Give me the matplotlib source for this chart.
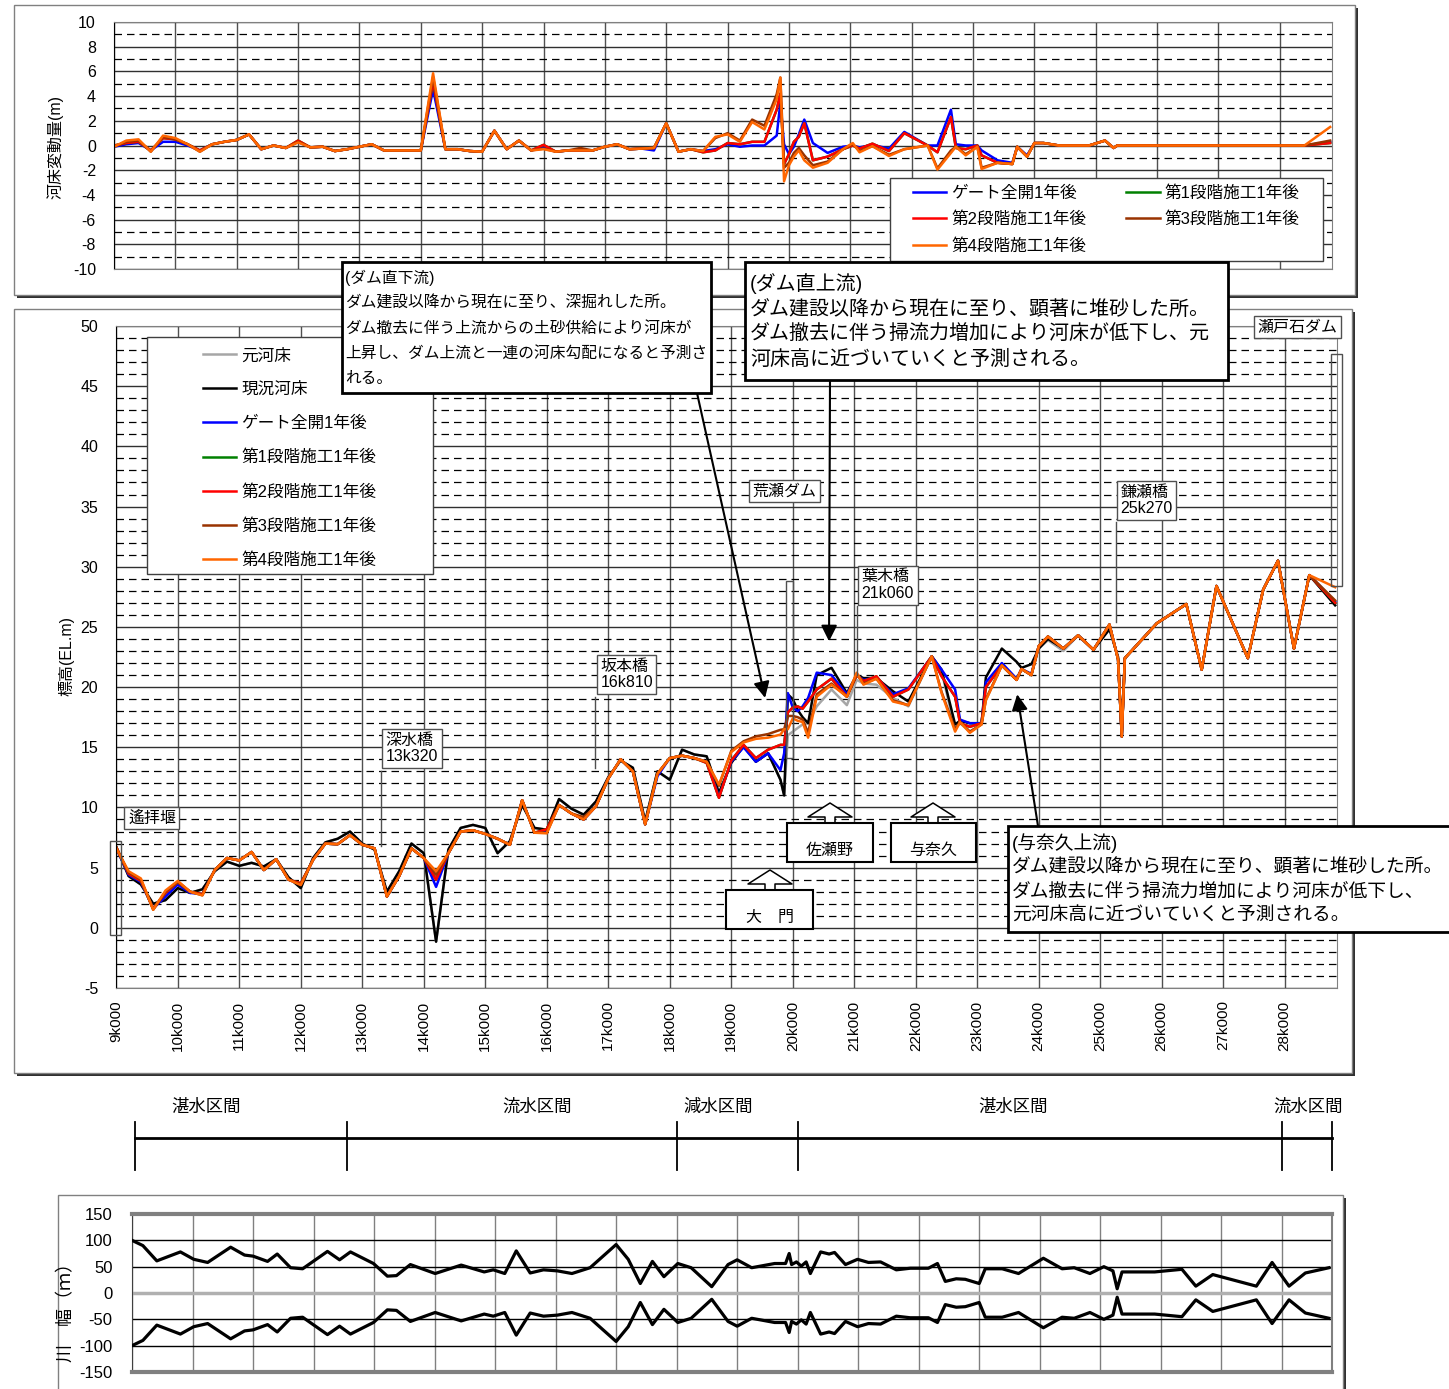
import matplotlib
matplotlib.use("Agg")
import matplotlib.pyplot as plt
import numpy as np
from matplotlib import font_manager
from matplotlib.patches import Rectangle, Polygon, ConnectionPatch
from matplotlib.lines import Line2D
from matplotlib.ticker import MultipleLocator, FixedLocator, NullFormatter

plt.rcParams['font.family'] = ['Liberation Sans', 'Noto Sans CJK JP']
plt.rcParams['axes.unicode_minus'] = False
installed = {f.name for f in font_manager.fontManager.ttflist}
narrow = 'Liberation Sans Narrow' if 'Liberation Sans Narrow' in installed else 'Liberation Sans'

# ---------------- データ ----------------
km = [9.0, 9.2, 9.4, 9.6, 9.8, 10.0, 10.2, 10.4, 10.6, 10.8,
      11.0, 11.2, 11.4, 11.6, 11.8, 12.0, 12.2, 12.4, 12.6, 12.8,
      13.0, 13.2, 13.4, 13.6, 13.8, 14.0, 14.2, 14.4, 14.6, 14.8,
      15.0, 15.2, 15.4, 15.6, 15.8, 16.0, 16.2, 16.4, 16.6, 16.8,
      17.0, 17.2, 17.4, 17.6, 17.8, 18.0, 18.2, 18.4, 18.6, 18.8,
      19.0, 19.2, 19.4, 19.6, 19.8, 19.86, 19.92, 20.0, 20.08, 20.16,
      20.25, 20.39, 20.63, 20.88, 21.04, 21.15, 21.36, 21.63, 21.88, 22.26,
      22.42, 22.64, 22.72, 22.88, 23.07, 23.14, 23.4, 23.64, 23.72, 23.88,
      24.0, 24.15, 24.4, 24.64, 24.89, 25.15, 25.29, 25.35, 25.4, 25.92,
      26.4, 26.65, 26.89, 27.4, 27.65, 27.89, 28.15, 28.4, 28.82]

# 元河床
original_bed = [6.7, 4.3, 3.6, 2.0, 2.3, 3.3, 2.9, 3.2, 4.7, 5.5,
                5.15, 5.4, 5.1, 5.7, 4.2, 3.3, 5.8, 7.1, 7.4, 8.0,
                7.0, 6.5, 3.0, 4.7, 7.0, 6.2, -1.15, 6.5, 8.3, 8.55,
                8.3, 6.2, 7.2, 10.2, 8.3, 8.15, 10.7, 9.9, 9.4, 10.5,
                12.5, 13.9, 13.3, 8.85, 13.0, 12.3, 14.8, 14.4, 14.25, 11.2,
                13.7, 15.1, 13.8, 14.5, 12.3, 11.0, 16.0, 16.3, 16.6, 16.9,
                17.0, 18.4, 19.8, 18.5, 20.6, 20.3, 20.2, 19.1, 18.4, 22.55,
                21.3, 16.5, 17.0, 16.3, 16.9, 18.9, 21.8, 20.6, 21.5, 21.0,
                23.2, 23.9, 23.0, 24.3, 23.1, 25.0, 22.4, 15.9, 22.4, 25.3,
                26.9, 21.45, 28.4, 22.4, 28.1, 30.5, 23.2, 29.3, 26.8]
# 現況河床
current_bed = [6.7, 4.3, 3.6, 2.0, 2.3, 3.3, 2.9, 3.2, 4.7, 5.5,
               5.15, 5.4, 5.1, 5.7, 4.2, 3.3, 5.8, 7.1, 7.4, 8.0,
               7.0, 6.5, 3.0, 4.7, 7.0, 6.2, -1.15, 6.5, 8.3, 8.55,
               8.3, 6.2, 7.2, 10.2, 8.3, 8.15, 10.7, 9.9, 9.4, 10.5,
               12.5, 13.9, 13.3, 8.85, 13.0, 12.3, 14.8, 14.4, 14.25, 11.2,
               13.7, 15.1, 13.8, 14.5, 12.3, 11.0, 19.4, 19.0, 18.1, 17.5,
               17.0, 21.0, 21.6, 19.5, 21.0, 20.75, 20.75, 19.65, 18.8, 22.55,
               21.45, 16.9, 17.2, 17.0, 17.0, 20.8, 23.2, 22.1, 21.6, 21.9,
               23.2, 24.0, 23.2, 24.3, 23.1, 24.8, 22.5, 15.9, 22.4, 25.3,
               26.9, 21.45, 28.4, 22.4, 28.1, 30.5, 23.2, 29.3, 26.8]
# ゲート全開1年後
gate_open = [6.6, 4.4, 3.8, 1.6, 2.6, 3.6, 2.9, 2.8, 4.8, 5.8,
             5.6, 6.3, 4.8, 5.7, 4.0, 3.6, 5.65, 7.0, 6.95, 7.7,
             6.9, 6.6, 2.6, 4.3, 6.6, 5.8, 3.4, 6.2, 8.0, 8.1,
             7.8, 7.4, 6.9, 10.6, 7.9, 8.0, 10.2, 9.5, 9.0, 10.1,
             12.4, 14.0, 13.0, 8.6, 12.6, 14.1, 14.3, 14.1, 13.8, 10.9,
             13.8, 15.0, 13.8, 14.5, 13.1, 14.5, 19.5, 18.3, 18.0, 18.4,
             19.1, 21.2, 21.0, 19.4, 21.0, 20.6, 20.8, 19.4, 19.9, 22.55,
             21.45, 19.8, 17.3, 17.0, 17.0, 20.4, 22.0, 20.7, 21.5, 21.1,
             23.4, 24.2, 23.2, 24.3, 23.1, 25.2, 22.3, 15.9, 22.4, 25.3,
             26.9, 21.45, 28.4, 22.4, 28.1, 30.5, 23.2, 29.3, 27.1]
# 第1段階施工1年後
stage1 = [6.7, 4.5, 3.9, 1.6, 2.9, 3.8, 3.0, 2.8, 4.8, 5.8,
          5.6, 6.3, 4.8, 5.7, 4.0, 3.7, 5.65, 7.0, 6.95, 7.7,
          6.9, 6.6, 2.6, 4.3, 6.6, 5.8, 4.0, 6.2, 8.0, 8.1,
          7.8, 7.4, 6.9, 10.6, 7.9, 8.2, 10.2, 9.5, 9.0, 10.1,
          12.4, 14.0, 13.0, 8.6, 12.8, 14.1, 14.3, 14.1, 13.7, 10.8,
          13.9, 15.2, 14.1, 14.8, 15.2, 15.2, 17.9, 18.3, 18.4, 18.2,
          18.8, 19.8, 20.7, 19.2, 21.0, 20.5, 20.9, 19.2, 19.8, 22.55,
          20.9, 19.2, 17.0, 16.7, 17.0, 20.0, 21.8, 20.6, 21.5, 21.0,
          23.4, 24.2, 23.2, 24.3, 23.1, 25.2, 22.3, 15.9, 22.4, 25.3,
          26.9, 21.45, 28.4, 22.4, 28.1, 30.5, 23.2, 29.3, 27.0]
# 第2段階施工1年後
stage2 = [6.7, 4.5, 3.9, 1.6, 2.9, 3.8, 3.0, 2.8, 4.8, 5.8,
          5.6, 6.3, 4.8, 5.7, 4.0, 3.7, 5.65, 7.0, 6.95, 7.7,
          6.9, 6.6, 2.6, 4.3, 6.6, 5.8, 4.0, 6.2, 8.0, 8.1,
          7.8, 7.4, 6.9, 10.6, 7.9, 8.2, 10.2, 9.5, 9.0, 10.1,
          12.4, 14.0, 13.0, 8.6, 12.8, 14.1, 14.3, 14.1, 13.7, 10.8,
          13.9, 15.2, 14.1, 14.8, 15.2, 15.2, 17.9, 18.3, 18.4, 18.2,
          18.8, 19.8, 20.7, 19.2, 21.0, 20.5, 20.9, 19.2, 19.8, 22.55,
          20.9, 19.2, 17.0, 16.7, 17.0, 20.0, 21.8, 20.6, 21.5, 21.0,
          23.4, 24.2, 23.2, 24.3, 23.1, 25.2, 22.3, 15.9, 22.4, 25.3,
          26.9, 21.45, 28.4, 22.4, 28.1, 30.5, 23.2, 29.3, 27.0]
# 第3段階施工1年後
stage3 = [6.6, 4.6, 4.0, 1.5, 3.0, 3.8, 3.0, 2.7, 4.8, 5.8,
          5.6, 6.3, 4.8, 5.7, 4.0, 3.6, 5.65, 7.0, 6.95, 7.7,
          6.9, 6.6, 2.6, 4.3, 6.6, 5.8, 4.4, 6.2, 8.0, 8.1,
          7.8, 7.4, 6.9, 10.6, 7.9, 7.9, 10.2, 9.5, 9.2, 10.1,
          12.4, 14.0, 13.0, 8.6, 12.8, 14.1, 14.3, 14.1, 13.8, 11.8,
          14.7, 15.5, 15.9, 16.1, 16.45, 16.5, 17.6, 17.6, 17.5, 17.3,
          16.2, 19.4, 20.3, 19.2, 21.1, 20.3, 20.7, 18.9, 18.5, 22.55,
          19.6, 16.5, 17.1, 16.3, 16.9, 19.0, 21.8, 20.6, 21.5, 21.0,
          23.4, 24.2, 23.2, 24.3, 23.1, 25.2, 22.3, 15.9, 22.4, 25.3,
          26.9, 21.45, 28.4, 22.4, 28.1, 30.5, 23.2, 29.3, 27.2]
# 第4段階施工1年後
stage4 = [6.6, 4.7, 4.1, 1.5, 3.1, 3.9, 3.0, 2.7, 4.8, 5.8,
          5.6, 6.3, 4.8, 5.7, 4.0, 3.55, 5.65, 7.0, 6.95, 7.7,
          6.9, 6.6, 2.6, 4.3, 6.6, 5.8, 4.7, 6.2, 8.0, 8.1,
          7.8, 7.4, 6.9, 10.6, 7.9, 7.85, 10.2, 9.5, 9.0, 10.1,
          12.4, 14.0, 13.0, 8.6, 12.8, 14.1, 14.3, 14.1, 13.8, 11.9,
          14.6, 15.4, 15.7, 15.8, 16.05, 16.5, 16.5, 17.4, 17.2, 17.1,
          15.8, 19.2, 20.2, 19.2, 21.2, 20.2, 20.7, 18.8, 18.5, 22.55,
          19.5, 16.3, 17.1, 16.2, 16.9, 18.9, 21.8, 20.6, 21.5, 21.0,
          23.4, 24.2, 23.2, 24.3, 23.1, 25.2, 22.3, 15.9, 22.4, 25.3,
          26.9, 21.45, 28.4, 22.4, 28.1, 30.5, 23.2, 29.3, 28.3]

# 川幅（片側）
width_km = [9.0, 9.18, 9.41, 9.8, 10.02, 10.25, 10.63, 10.86, 11.0, 11.24,
            11.4, 11.62, 11.82, 12.23, 12.43, 12.61, 12.99, 13.22, 13.37, 13.6,
            14.01, 14.44, 14.82, 14.97, 15.16, 15.35, 15.58, 15.8, 16.03, 16.27,
            16.57, 17.0, 17.2, 17.4, 17.6, 17.79, 18.02, 18.24, 18.58, 18.85,
            19.0, 19.24, 19.62, 19.8, 19.86, 19.9, 19.98, 20.06, 20.14, 20.21,
            20.38, 20.52, 20.61, 20.79, 20.99, 21.17, 21.37, 21.63, 21.86, 22.16,
            22.31, 22.44, 22.62, 22.77, 23.0, 23.1, 23.38, 23.65, 24.06, 24.37,
            24.57, 24.83, 25.06, 25.21, 25.28, 25.36, 25.9, 26.35, 26.58, 26.86,
            27.58, 27.84, 28.12, 28.39, 28.78]
half_width = [100, 90, 61, 78, 64, 58, 87, 72, 70, 60,
              74, 48, 46, 79, 63, 78, 56, 32, 33, 54,
              37, 53, 40, 44, 37, 80, 38, 44, 42, 37,
              48, 92, 64, 18, 60, 31, 56, 48, 12, 54,
              63, 48, 56, 56, 75, 54, 59, 51, 59, 37,
              78, 74, 77, 54, 64, 58, 59, 44, 47, 47,
              56, 22, 27, 26, 18, 46, 46, 37, 66, 46,
              48, 37, 50, 42, 8, 40, 40, 45, 13, 35,
              13, 58, 13, 38, 48]

# 区間
section_bounds = [9.05, 12.55, 18.0, 20.0, 28.0, 28.83]
section_names = ['湛水区間', '流水区間', '減水区間', '湛水区間', '流水区間']
section_label_km = [10.22, 15.69, 18.69, 23.56, 28.44]

# 橋梁・ダム
bridge_names = ['深水橋', '坂本橋', '葉木橋', '鎌瀬橋']
bridge_km = [13.32, 16.81, 21.06, 25.27]
bridge_label_y = [14.9, 21.05, 28.45, 35.5]
bridge_leader = [(13.05, 6.8), (19.2, 13.3), (26.7, 21.0), (33.7, 25.4)]
dam_names = ['遙拝堰', '荒瀬ダム', '瀬戸石ダム']
dam_label_pos = [(9.19, 9.1), (19.35, 36.3), (27.56, 49.9)]
dam_rects = [(8.9, -0.6, 9.07, 7.2), (19.89, 14.1, 20.0, 28.8), (28.75, 28.4, 28.93, 47.7)]

series = [('元河床', original_bed, '#a6a6a6'),
          ('現況河床', current_bed, 'black'),
          ('ゲート全開1年後', gate_open, '#0000ff'),
          ('第1段階施工1年後', stage1, '#008000'),
          ('第2段階施工1年後', stage2, '#ff0000'),
          ('第3段階施工1年後', stage3, '#993300'),
          ('第4段階施工1年後', stage4, '#ff6600')]

XMAX = 28.85
W, H = 1449, 1389
fig = plt.figure(figsize=(W / 100, H / 100), dpi=100)


def fx(x):
    return x / W


def fy(y):
    return 1 - y / H


def rect_px(x0, y0, x1, y1):
    return [x0 / W, 1 - y1 / H, (x1 - x0) / W, (y1 - y0) / H]


def frame(x0, y0, x1, y1):
    # 影付きの枠
    fig.add_artist(Rectangle((fx(x0 + 3), fy(y1 + 3)), (x1 - x0) / W, (y1 - y0) / H,
                             transform=fig.transFigure, fc='#303030', ec='none', zorder=-2))
    fig.add_artist(Rectangle((fx(x0), fy(y1)), (x1 - x0) / W, (y1 - y0) / H,
                             transform=fig.transFigure, fc='white', ec='#808080', lw=1, zorder=-1))


frame(14, 5, 1355, 295)
frame(14, 309, 1352, 1073)
frame(58, 1195, 1343, 1400)

dash = (0, (6, 4))

# ---------------- 上段: 河床変動量 ----------------
ax_top = fig.add_axes(rect_px(114, 22, 1332, 269))
ax_top.set_xlim(9, XMAX)
ax_top.set_ylim(-10, 10)
ax_top.xaxis.set_major_locator(FixedLocator(range(9, 29)))
ax_top.xaxis.set_major_formatter(NullFormatter())
ax_top.yaxis.set_major_locator(MultipleLocator(2))
ax_top.yaxis.set_minor_locator(MultipleLocator(1))
ax_top.grid(True, which='major', axis='x', color='#505050', lw=1)
ax_top.grid(True, which='major', axis='y', color='#303030', lw=1)
ax_top.grid(True, which='minor', axis='y', color='black', lw=0.9, linestyle=dash)
ax_top.set_axisbelow(True)
ax_top.tick_params(which='both', length=0)
ax_top.tick_params(axis='y', pad=13, labelsize=11.5)
for s in ax_top.spines.values():
    s.set_color('#808080')
ax_top.spines['left'].set_color('black')

cur = np.array(current_bed)
top_handles = {}
for name, vals, col in series[2:]:
    h, = ax_top.plot(km, np.array(vals) - cur, color=col, lw=1.8)
    top_handles[name] = h
fig.text(fx(55), fy(147), '河床変動量(m)', rotation=90, ha='center', va='center', fontsize=11.5)

fig.add_artist(Rectangle((fx(890), fy(261)), (1323 - 890) / W, (261 - 178) / H,
                         transform=fig.transFigure, fc='white', ec='#404040', lw=1, zorder=1))
order = ['ゲート全開1年後', '第2段階施工1年後', '第4段階施工1年後', '第1段階施工1年後', '第3段階施工1年後']
leg_top = fig.legend([top_handles[n] for n in order], order, loc='upper left',
                     bbox_to_anchor=(fx(913), fy(185)), ncol=2, frameon=False, fontsize=12,
                     borderpad=0, handlelength=2.0, handletextpad=0.3, labelspacing=0.66,
                     columnspacing=2.4, borderaxespad=0)
leg_top.set_zorder(2)

# ---------------- 中段: 縦断図 ----------------
ax = fig.add_axes(rect_px(116.3, 326, 1337, 988))
ax.set_xlim(9, XMAX)
ax.set_ylim(-5, 50)
ax.xaxis.set_major_locator(FixedLocator(range(9, 29)))
ax.set_xticklabels([f'{k}k000' for k in range(9, 29)], rotation=90, fontsize=11)
ax.yaxis.set_major_locator(MultipleLocator(5))
ax.yaxis.set_minor_locator(MultipleLocator(1))
ax.grid(True, which='major', axis='x', color='#505050', lw=1)
ax.grid(True, which='major', axis='y', color='#303030', lw=1)
ax.grid(True, which='minor', axis='y', color='black', lw=0.9, linestyle=dash)
ax.set_axisbelow(True)
ax.tick_params(which='both', length=0)
ax.tick_params(axis='y', pad=13, labelsize=11.5)
ax.tick_params(axis='x', pad=9)
for s in ax.spines.values():
    s.set_color('#808080')
ax.spines['left'].set_color('black')

main_handles = []
for name, vals, col in series:
    h, = ax.plot(km, vals, color=col, lw=1.8)
    main_handles.append(h)
fig.text(fx(66), fy(656), '標高(EL.m)', rotation=90, ha='center', va='center', fontsize=11.5)

fig.add_artist(Rectangle((fx(147), fy(574)), (433 - 147) / W, (574 - 337) / H,
                         transform=fig.transFigure, fc='white', ec='#404040', lw=1, zorder=1))
leg_main = fig.legend(main_handles, [s[0] for s in series], loc='upper left',
                      bbox_to_anchor=(fx(203), fy(348)), frameon=False, fontsize=12,
                      borderpad=0, handlelength=2.0, handletextpad=0.3, labelspacing=1.12,
                      borderaxespad=0)
leg_main.set_zorder(2)

# 橋梁ラベル
for name, k, ly, (l0, l1) in zip(bridge_names, bridge_km, bridge_label_y, bridge_leader):
    ax.plot([k - 0.02, k - 0.02], [l0, l1], color='#505050', lw=1, zorder=3)
    label = f'{name}\n{int(k)}k{round((k % 1) * 1000):03d}'
    ax.text(k + 0.06, ly, label, ha='left', va='center', fontsize=11.5, linespacing=1.15, zorder=4,
            bbox=dict(boxstyle='square,pad=0.22', fc='white', ec='#505050', lw=1))

# ダム
for name, (lx, ly), (x0, y0, x1, y1) in zip(dam_names, dam_label_pos, dam_rects):
    ax.add_patch(Rectangle((x0, y0), x1 - x0, y1 - y0, fc='none', ec='#505050', lw=1,
                           clip_on=False, zorder=4))
    ax.text(lx, ly, name, ha='left', va='center', fontsize=11.5, zorder=4,
            bbox=dict(boxstyle='square,pad=0.22', fc='white', ec='#505050', lw=1))


# 地名（上向き矢印付きボックス）
def place_box(cx, box, apex, base, name):
    x0, y0, x1, y1 = box
    hh, hs = 22, 5
    pts = [(cx - hs, y0), (cx - hs, base), (cx - hh, base), (cx, apex),
           (cx + hh, base), (cx + hs, base), (cx + hs, y0)]
    fig.add_artist(Polygon([(fx(p), fy(q)) for p, q in pts], closed=True, transform=fig.transFigure,
                           fc='white', ec='none', zorder=2))
    fig.add_artist(Line2D([fx(p) for p, q in pts], [fy(q) for p, q in pts], transform=fig.transFigure,
                          color='black', lw=1.1, zorder=2.1))
    fig.add_artist(Rectangle((fx(x0), fy(y1)), (x1 - x0) / W, (y1 - y0) / H, transform=fig.transFigure,
                             fc='white', ec='black', lw=1.5, zorder=2))
    fig.text(fx(cx), fy(y0 + 27), name, ha='center', va='center', fontsize=11.5, zorder=2.2)


place_box(830, (787, 823, 873, 862), 803, 817, '佐瀬野')
place_box(933, (891, 823, 976, 862), 803, 817, '与奈久')
place_box(770, (726, 890, 813, 929), 870, 884, '大　門')

# 説明枠
callouts = [
    ((342, 262, 711, 393), 345, 278, 25, 11.3,
     ['(ダム直下流)', 'ダム建設以降から現在に至り、深掘れした所。',
      'ダム撤去に伴う上流からの土砂供給により河床が',
      '上昇し、ダム上流と一連の河床勾配になると予測さ', 'れる。']),
    ((745, 262, 1228, 380), 750, 284, 25, 14.4,
     ['(ダム直上流)', 'ダム建設以降から現在に至り、顕著に堆砂した所。',
      'ダム撤去に伴う掃流力増加により河床が低下し、元', '河床高に近づいていくと予測される。']),
    ((1008, 826, 1470, 932), 1012, 843, 24.5, 13.5,
     ['(与奈久上流)', 'ダム建設以降から現在に至り、顕著に堆砂した所。',
      'ダム撤去に伴う掃流力増加により河床が低下し、', '元河床高に近づいていくと予測される。']),
]
for (x0, y0, x1, y1), tx, ty, dy, fs, lines in callouts:
    fig.add_artist(Rectangle((fx(x0), fy(y1)), (x1 - x0) / W, (y1 - y0) / H, transform=fig.transFigure,
                             fc='white', ec='black', lw=2, zorder=5))
    for i, line in enumerate(lines):
        fig.text(fx(tx), fy(ty + i * dy), line, ha='left', va='center', fontsize=fs, zorder=6)

# 矢印
arrows = [((697, 393), (19.55, 19.1)), ((830, 380), (20.59, 23.8)), ((1038, 826), (23.65, 19.4))]
for (sx, sy), tip in arrows:
    con = ConnectionPatch(xyA=(fx(sx), fy(sy)), coordsA=fig.transFigure, xyB=tip, coordsB=ax.transData,
                          arrowstyle='-|>', mutation_scale=24, lw=1.5, color='black', zorder=4)
    fig.add_artist(con)

# ---------------- 区間帯 ----------------
ax_band = fig.add_axes(rect_px(132, 1090, 1332, 1180))
ax_band.set_xlim(9, 28.83)
ax_band.set_ylim(0, 1)
ax_band.axis('off')
ax_band.plot([section_bounds[0], section_bounds[-1]], [0.467, 0.467], color='black', lw=2, clip_on=False)
for b in section_bounds:
    ax_band.plot([b, b], [0.111, 0.644], color='black', lw=1.3, clip_on=False)
for name, k in zip(section_names, section_label_km):
    ax_band.text(k, 0.811, name, ha='center', va='center', fontsize=12.5)

# ---------------- 下段: 川幅 ----------------
ax_w = fig.add_axes(rect_px(132, 1214, 1332, 1372))
ax_w.set_xlim(9, 28.83)
ax_w.set_ylim(-150, 150)
ax_w.xaxis.set_major_locator(FixedLocator(range(9, 29)))
ax_w.xaxis.set_major_formatter(NullFormatter())
ax_w.set_yticks(range(-150, 151, 50))
ax_w.grid(True, axis='x', color='#808080', lw=1)
for v in (-100, -50, 50, 100):
    ax_w.axhline(v, color='black', lw=1, zorder=1)
ax_w.axhline(0, color='#b0b0b0', lw=2.5, zorder=1)
ax_w.set_axisbelow(True)
ax_w.tick_params(which='both', length=0)
ax_w.tick_params(axis='y', pad=14)
for lab in ax_w.get_yticklabels():
    lab.set_fontfamily(narrow)
    lab.set_fontsize(12)
ax_w.spines['top'].set_color('#808080')
ax_w.spines['top'].set_linewidth(3)
ax_w.spines['bottom'].set_color('#808080')
ax_w.spines['bottom'].set_linewidth(3)
ax_w.spines['left'].set_color('#404040')
ax_w.spines['right'].set_color('#808080')
ax_w.spines['right'].set_linewidth(1.5)
hw = np.array(half_width)
ax_w.plot(width_km, hw, color='black', lw=2.3, zorder=3)
ax_w.plot(width_km, -hw, color='black', lw=2.3, zorder=3)
fig.text(fx(66), fy(1308), '川　幅（ｍ）', rotation=90, ha='center', va='center', fontsize=13,
         family=['Noto Sans CJK JP'])

fig.savefig('out.png', dpi=100)
